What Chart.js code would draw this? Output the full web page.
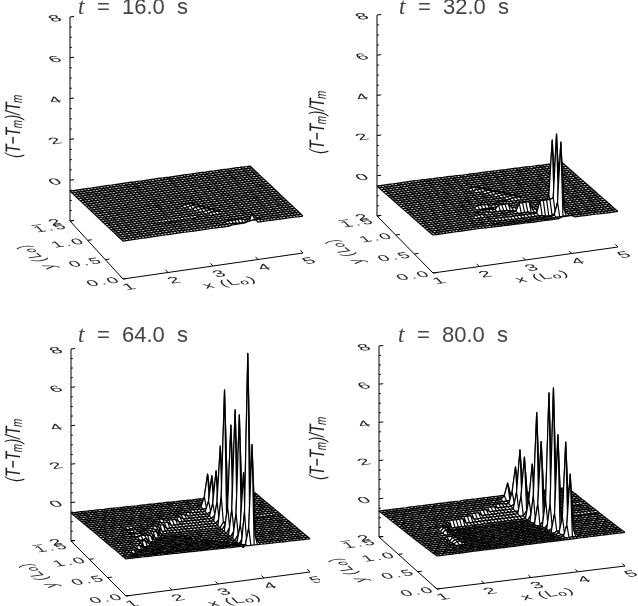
<!DOCTYPE html>
<html><head><meta charset="utf-8">
<style>html,body{margin:0;padding:0;background:#fff}canvas{position:absolute}#p{position:relative;width:638px;height:606px;overflow:hidden}div.c{position:absolute}</style>
<script src="https://cdn.jsdelivr.net/npm/chart.js@4"></script>
</head><body><div id="p"></div>
<script>
// ---- data ----
const zTicks=[-2,0,2,4,6,8];
const zMinor=[-1.5,-1,-0.5,0.5,1,1.5,2.5,3,3.5,4.5,5,5.5,6.5,7,7.5];
const xTicks=[1,2,3,4,5];
const yTicks=[0,0.5,1,1.5];
const yTickLabels=['0.0','0.5','1.0','1.5'];
const times=['16.0','32.0','64.0','80.0'];
const colCount=57, rowCount=27;

// surface level of each mesh row, back (y=1.5) to front (y=0)
const rows16=[-.53,-.515,-.5,-.485,-.47,-.455,-.44,-.425,-.41,-.395,-.38,-.365,-.35,-.335,-.32,-.305,-.29,-.275,-.26,-.245,-.23,-.215,-.2,-.185,-.17,-.155,-.14];
const rows32=[-.51,-.495,-.48,-.465,-.45,-.435,-.42,-.405,-.39,-.375,-.36,-.345,-.33,-.315,-.3,-.285,-.27,-.255,-.24,-.225,-.21,-.195,-.18,-.165,-.15,-.13,-.11];
const rows64=[-.54,-.52,-.5,-.485,-.47,-.45,-.43,-.41,-.39,-.37,-.355,-.34,-.32,-.3,-.285,-.27,-.25,-.23,-.21,-.195,-.18,-.16,-.14,-.125,-.11,-.09,-.07];
const rows80=[-.64,-.63,-.61,-.6,-.58,-.57,-.56,-.55,-.53,-.52,-.51,-.5,-.48,-.47,-.46,-.44,-.43,-.42,-.4,-.39,-.37,-.36,-.34,-.33,-.31,-.29,-.27];

// level offset of each mesh column, x=1 to x=5
const cols16=[0,0,0,0,0,0,0,0,0,0,0,0,0,0,0,0,0,0,0,0,-.01,-.01,-.01,-.01,-.01,-.01,-.01,-.01,-.01,-.01,-.01,-.02,-.02,-.02,-.02,-.02,-.02,-.02,-.02,-.02,-.02,-.02,-.03,-.03,-.03,-.03,-.03,-.03,-.03,-.04,-.04,-.04,-.04,-.04,-.05,-.05,-.05];
const cols32=[0,0,0,0,0,0,0,0,0,0,0,0,0,0,0,-.01,-.01,-.02,-.02,-.02,-.03,-.03,-.03,-.04,-.04,-.04,-.05,-.05,-.05,-.05,-.06,-.06,-.06,-.06,-.06,-.07,-.07,-.07,-.07,-.08,-.08,-.08,-.08,-.09,-.09,-.09,-.1,-.1,-.1,-.1,-.11,-.11,-.11,-.12,-.12,-.12,-.12];
const cols64=[0,0,0,0,-.01,-.01,-.01,-.02,-.02,-.02,-.03,-.03,-.03,-.04,-.04,-.05,-.05,-.05,-.06,-.06,-.07,-.07,-.07,-.08,-.08,-.09,-.09,-.09,-.1,-.1,-.11,-.11,-.12,-.12,-.12,-.13,-.13,-.14,-.14,-.14,-.15,-.15,-.16,-.16,-.16,-.17,-.17,-.17,-.18,-.18,-.18,-.19,-.19,-.19,-.2,-.2,-.2];
const cols80=[0,0,0,0,0,0,0,0,0,.01,.01,.01,.01,.01,.01,.01,.01,.01,.01,.01,.01,.01,.01,.01,.01,.02,.02,.02,.02,.02,.02,.02,.02,.02,.02,.02,.02,.02,.02,.02,.02,.03,.03,.03,.03,.03,.03,.03,.03,.03,.03,.03,.03,.03,.03,.03,.03];

// local height changes: [row, firstCol, lastCol, dz]
const runs16=[[14,27,29,.06],[15,28,30,.07],[16,29,31,.07],[17,30,32,.07],[18,31,33,.06],[19,32,34,.05],
 [20,14,26,-.02],[24,34,38,.05],[25,36,39,-.03],[25,41,43,.03],[26,34,38,.04]];
const runs32=[[7,24,26,.05],[8,25,27,.05],[9,27,28,.05],[10,28,30,.05],[11,29,31,.05],[12,30,32,.05],[13,31,33,.05],[14,32,34,.05],
 [20,17,19,.05],[19,18,21,.05],[18,20,23,.05],[17,23,26,.05],[16,25,28,.05],[15,27,29,.04],
 [16,20,23,.1],[17,23,25,-.04],[18,25,28,.22],[19,28,30,-.05],[20,30,33,.4],[21,33,35,-.06],[22,35,38,.6],[23,36,38,-.1],
 [23,21,35,-.05],[24,20,37,-.04],[25,20,38,-.02],[26,39,42,.08]];
const runs64=[[5,36,37,-.03],[6,33,37,-.06],[7,31,37,-.09],[8,29,37,-.12],[9,27,37,-.15],[10,24,37,-.18],[11,22,37,-.21],[12,20,37,-.24],
 [13,19,19,-.27],[14,18,21,-.26],[15,16,22,-.24],[16,15,24,-.22],[17,13,25,-.2],[18,12,27,-.18],[19,10,28,-.16],[20,9,30,-.14],[21,7,31,-.12],[22,6,33,-.1],[23,4,34,-.07],[24,3,36,-.05],[25,2,37,-.02],
 [13,20,37,-.27],[14,22,37,-.27],[15,23,37,-.27],[16,25,37,-.27],[17,26,37,-.27],[18,28,37,-.27],[19,29,37,-.27],[20,31,37,-.27],[21,32,37,-.27],[22,34,37,-.27],[23,35,37,-.27],[24,37,37,-.27],
 [16,11,13,.08],[15,12,14,.08],[14,13,15,.09],[13,15,16,.09],[12,16,18,.09],[11,17,19,.09],[10,19,20,.09],[9,20,22,.09],
 [11,10,11,-.05],[13,10,11,-.05],[15,10,11,-.05],[17,10,11,-.05],[19,10,11,-.05],
 [4,42,50,-.03],[12,46,54,-.03]];
const runs80=[[4,35,36,-.05],[5,32,36,-.09],[6,29,37,-.13],[7,26,37,-.17],[8,23,37,-.21],[9,20,37,-.25],
 [10,15,37,-.3],[11,14,37,-.29],[12,13,37,-.27],[13,13,38,-.25],[14,12,38,-.23],[15,11,38,-.21],[16,10,38,-.19],[17,10,38,-.17],[18,9,38,-.15],[19,8,38,-.13],[20,8,38,-.11],[21,8,38,-.09],[22,7,38,-.07],[23,6,38,-.05],[24,6,38,-.03],[25,5,38,-.02],
 [13,10,11,.14],[14,10,11,.18],[15,10,11,.18],[16,10,11,.18],[17,10,11,.18],[18,10,11,.18],[19,10,11,.15],[20,10,11,.12],
 [9,46,54,-.03],[14,48,55,-.03]];

// narrow peaks: [row, col, peak z, z one col left, z one col right]
const peaks16=[[26,40,.3,.02,0]];
const peaks32=[[20,40,3.03,.35,0],[22,40,3.55,.4,0],[24,40,3.37,.4,0]];
const peaks64=[[4,39,1.06,-.1,-.4],[6,39,1.18,-.1,-.4],[8,39,1.67,0,-.3],[10,39,3.18,.3,-.1],[12,39,6.32,.8,.1],[15,39,4.82,.6,.1],[17,39,5.83,.7,.1],[19,39,5.79,.7,.1],[21,39,3,.3,0],[23,39,9.44,1.2,.2],[25,39,4.9,.6,.1]];
const peaks80=[[2,37,.24,-.4,-.5],[4,38,1.28,0,-.4],[6,38,2.37,.2,-.2],[8,38,2.21,.2,-.2],[10,39,2.03,.2,-.1],[12,39,4.93,.6,.1],[14,39,3.62,.4,0],[16,40,6.36,.8,.1],[18,40,6.83,.8,.1],[20,40,4.58,.5,.1],[22,41,4.39,.5,.1],[24,41,2.92,.3,0]];

const surfaces=[[rows16,cols16,runs16,peaks16],[rows32,cols32,runs32,peaks32],[rows64,cols64,runs64,peaks64],[rows80,cols80,runs80,peaks80]];

// ---- layout of the four panels (canvas pixels) ----
const panels=[
 {left:0,top:0,W:320,H:303,zx:70,z8:17,zm2:221,fx:123,fy:279,ex:303,ey:253,tx:78,ty:14,zl:[14,126]},
 {left:300,top:0,W:338,H:303,zx:377,z8:15,zm2:216,fx:433,fy:273,ex:618,ey:247,tx:399,ty:14,zl:[318,122]},
 {left:0,top:303,W:320,H:303,zx:71,z8:349,zm2:541,fx:126,fy:596,ex:310,ey:572,tx:78,ty:342,zl:[14,450]},
 {left:300,top:303,W:338,H:303,zx:379,z8:346,zm2:537,fx:437,fy:589,ex:625,ey:566,tx:398,ty:342,zl:[318,448]}
];

const INK='#000', TXT='#222', SANS='"Liberation Sans",Arial,sans-serif';

function buildSurface([rows,cols,runs,peaks]){
  const z=rows.map(r=>cols.map(c=>r+c));
  runs.forEach(([j,a,b,d])=>{for(let i=a;i<=b;i++)z[j][i]+=d;});
  peaks.forEach(([j,i,p,l,r])=>{z[j][i]=p;z[j][i-1]=l;z[j][i+1]=r;});
  return z;
}

function rich(ctx,parts,size,align){
  // parts: [text, scale, dropFraction]
  const w=parts.map(([t,s])=>{ctx.font=`${size*(s||1)}px ${SANS}`;return ctx.measureText(t).width;});
  const tot=w.reduce((a,b)=>a+b,0);
  let x=align==='right'?-tot:align==='center'?-tot/2:0;
  parts.forEach(([t,s,d],k)=>{ctx.font=`${size*(s||1)}px ${SANS}`;ctx.fillText(t,x,(d||0)*size);x+=w[k];});
}

panels.forEach((P,n)=>{
  const pxX=(P.ex-P.fx)/4, pxZ=(P.zm2-P.z8)/10;
  const shearX=(P.fx-P.zx)/1.5/pxX, shearZ=-(P.fy-P.zm2)/1.5/pxZ, tiltZ=(P.fy-P.ey)/4/pxZ;
  const proj=(x,y,z)=>({x:x+(1.5-y)*shearX,y:z+(x-1)*tiltZ+(1.5-y)*shearZ});
  const Z=buildSurface(surfaces[n]);
  const xOf=i=>1+4*i/(colCount-1), yOf=j=>1.5-1.5*j/(rowCount-1);
  const gap={x:null,y:null};

  const datasets=[];
  for(let j=rowCount-2;j>=0;j--){            // front strip first: chart.js paints it last
    const data=[];
    for(let i=0;i<colCount;i++){
      const first=i%2?j+1:j, second=i%2?j:j+1;
      data.push(proj(xOf(i),yOf(first),Z[first][i]),proj(xOf(i),yOf(second),Z[second][i]));
    }
    for(let i=0;i<colCount-1;i++){
      const s=i%2?j+1:j;
      data.push(gap,proj(xOf(i),yOf(s),Z[s][i]),proj(xOf(i+1),yOf(s),Z[s][i+1]));
    }
    datasets.push({data,isStrip:true,showLine:true,borderColor:INK,borderWidth:1.2,pointRadius:0,tension:0,borderJoinStyle:'round',clip:false,spanGaps:false});
  }
  const axis=[];
  const seg=(a,b)=>axis.push(a,b,gap);
  seg(proj(1,1.5,-2),proj(1,1.5,8));
  seg(proj(1,1.5,-2),proj(1,0,-2));
  seg(proj(1,0,-2),proj(5,0,-2));
  zTicks.forEach(v=>seg(proj(1,1.5,v),proj(1.09,1.5,v)));
  zMinor.forEach(v=>seg(proj(1,1.5,v),proj(1.04,1.5,v)));
  xTicks.forEach(v=>seg(proj(v,0,-2),proj(v,.07,-2)));
  yTicks.forEach(v=>seg(proj(1,v,-2),proj(1.09,v,-2)));
  datasets.push({data:axis,showLine:true,borderColor:INK,borderWidth:1,pointRadius:0,tension:0,clip:false,spanGaps:false});

  const plugin={
    id:'mesh'+n,
    beforeDatasetDraw(chart,args){
      const ds=chart.data.datasets[args.index];
      if(!ds.isStrip)return;
      const pts=args.meta.data, c=chart.ctx;
      c.save();c.fillStyle='#fff';
      for(let i=0;i<colCount-1;i++){
        c.beginPath();
        c.moveTo(pts[2*i].x,pts[2*i].y);c.lineTo(pts[2*i+1].x,pts[2*i+1].y);
        c.lineTo(pts[2*i+2].x,pts[2*i+2].y);c.lineTo(pts[2*i+3].x,pts[2*i+3].y);
        c.closePath();c.fill();
      }
      c.restore();
    },
    afterDraw(chart){
      const c=chart.ctx, sx=chart.scales.x, sy=chart.scales.y;
      const at=(x,y,z)=>{const q=proj(x,y,z);return [sx.getPixelForValue(q.x),sy.getPixelForValue(q.y)];};
      const flat=(px,py,fn)=>{c.save();c.translate(px,py);c.transform(1.15,-0.16,.5,.5,0,0);fn();c.restore();};
      c.save();c.fillStyle=TXT;c.textBaseline='middle';c.textAlign='left';
      c.letterSpacing='1px';
      zTicks.forEach(v=>{const [a,b]=at(1,1.5,v);flat(a-8,b+1,()=>rich(c,[[String(v).replace('-','\u2212 ')]],17,'right'));});
      xTicks.forEach(v=>{const [a,b]=at(v,0,-2);flat(a+7,b+8,()=>rich(c,[[String(v)]],17,'center'));});
      c.letterSpacing='2px';
      yTicks.forEach((v,k)=>{const [a,b]=at(1,v,-2);flat(a-19,b+(v>1?7:3),()=>rich(c,[[yTickLabels[k]]],16,'center'));});
      c.letterSpacing='1px';
      const [xa,xb]=at(3,0,-2);
      flat(xa+17,xb+17,()=>rich(c,[['x (L',1],['o',.8,.15],[')',1]],16,'center'));
      const [ya,yb]=at(1,.75,-2);
      c.save();c.translate(ya-60,yb+7);c.transform(-.75,-.6,1.3,-.18,0,0);rich(c,[['y (L',1],['o',.8,.15],[')',1]],14,'center');c.restore();
      c.letterSpacing='0px';
      c.save();c.translate(P.zl[0]-P.left,P.zl[1]-P.top);c.transform(0,-1,1.5,.2,0,0);
      rich(c,[['(T\u2212T',1],['m',.7,.2],[')/T',1],['m',.7,.2]],14,'center');c.restore();
      // title
      c.fillStyle='#444';c.textBaseline='alphabetic';c.textAlign='left';
      const tx=P.tx-P.left, ty=P.ty-P.top;
      c.font='italic 23px "Liberation Serif",serif';c.fillText('t',tx,ty);
      c.font=`22px ${SANS}`;c.fillText('=',tx+19,ty);
      c.fillText(times[n],tx+44,ty);c.fillText('s',tx+99,ty);
      c.restore();
    }
  };

  const cv=document.createElement('canvas');
  cv.width=P.W;cv.height=P.H;cv.style.left=P.left+'px';cv.style.top=P.top+'px';
  cv.style.width=P.W+'px';cv.style.height=P.H+'px';
  document.getElementById('p').appendChild(cv);
  const pad=P.zx-P.left;
  new Chart(cv,{type:'scatter',data:{datasets},plugins:[plugin],options:{
    responsive:false,animation:false,events:[],devicePixelRatio:1,
    layout:{padding:{left:pad,right:0,top:0,bottom:0}},
    plugins:{legend:{display:false},tooltip:{enabled:false},title:{display:false}},
    scales:{
      x:{type:'linear',display:false,min:1,max:1+(P.W-pad)/pxX},
      y:{type:'linear',display:false,min:-2-(P.top+P.H-P.zm2)/pxZ,max:8+(P.z8-P.top)/pxZ}
    }
  }});
});
</script></body></html>
